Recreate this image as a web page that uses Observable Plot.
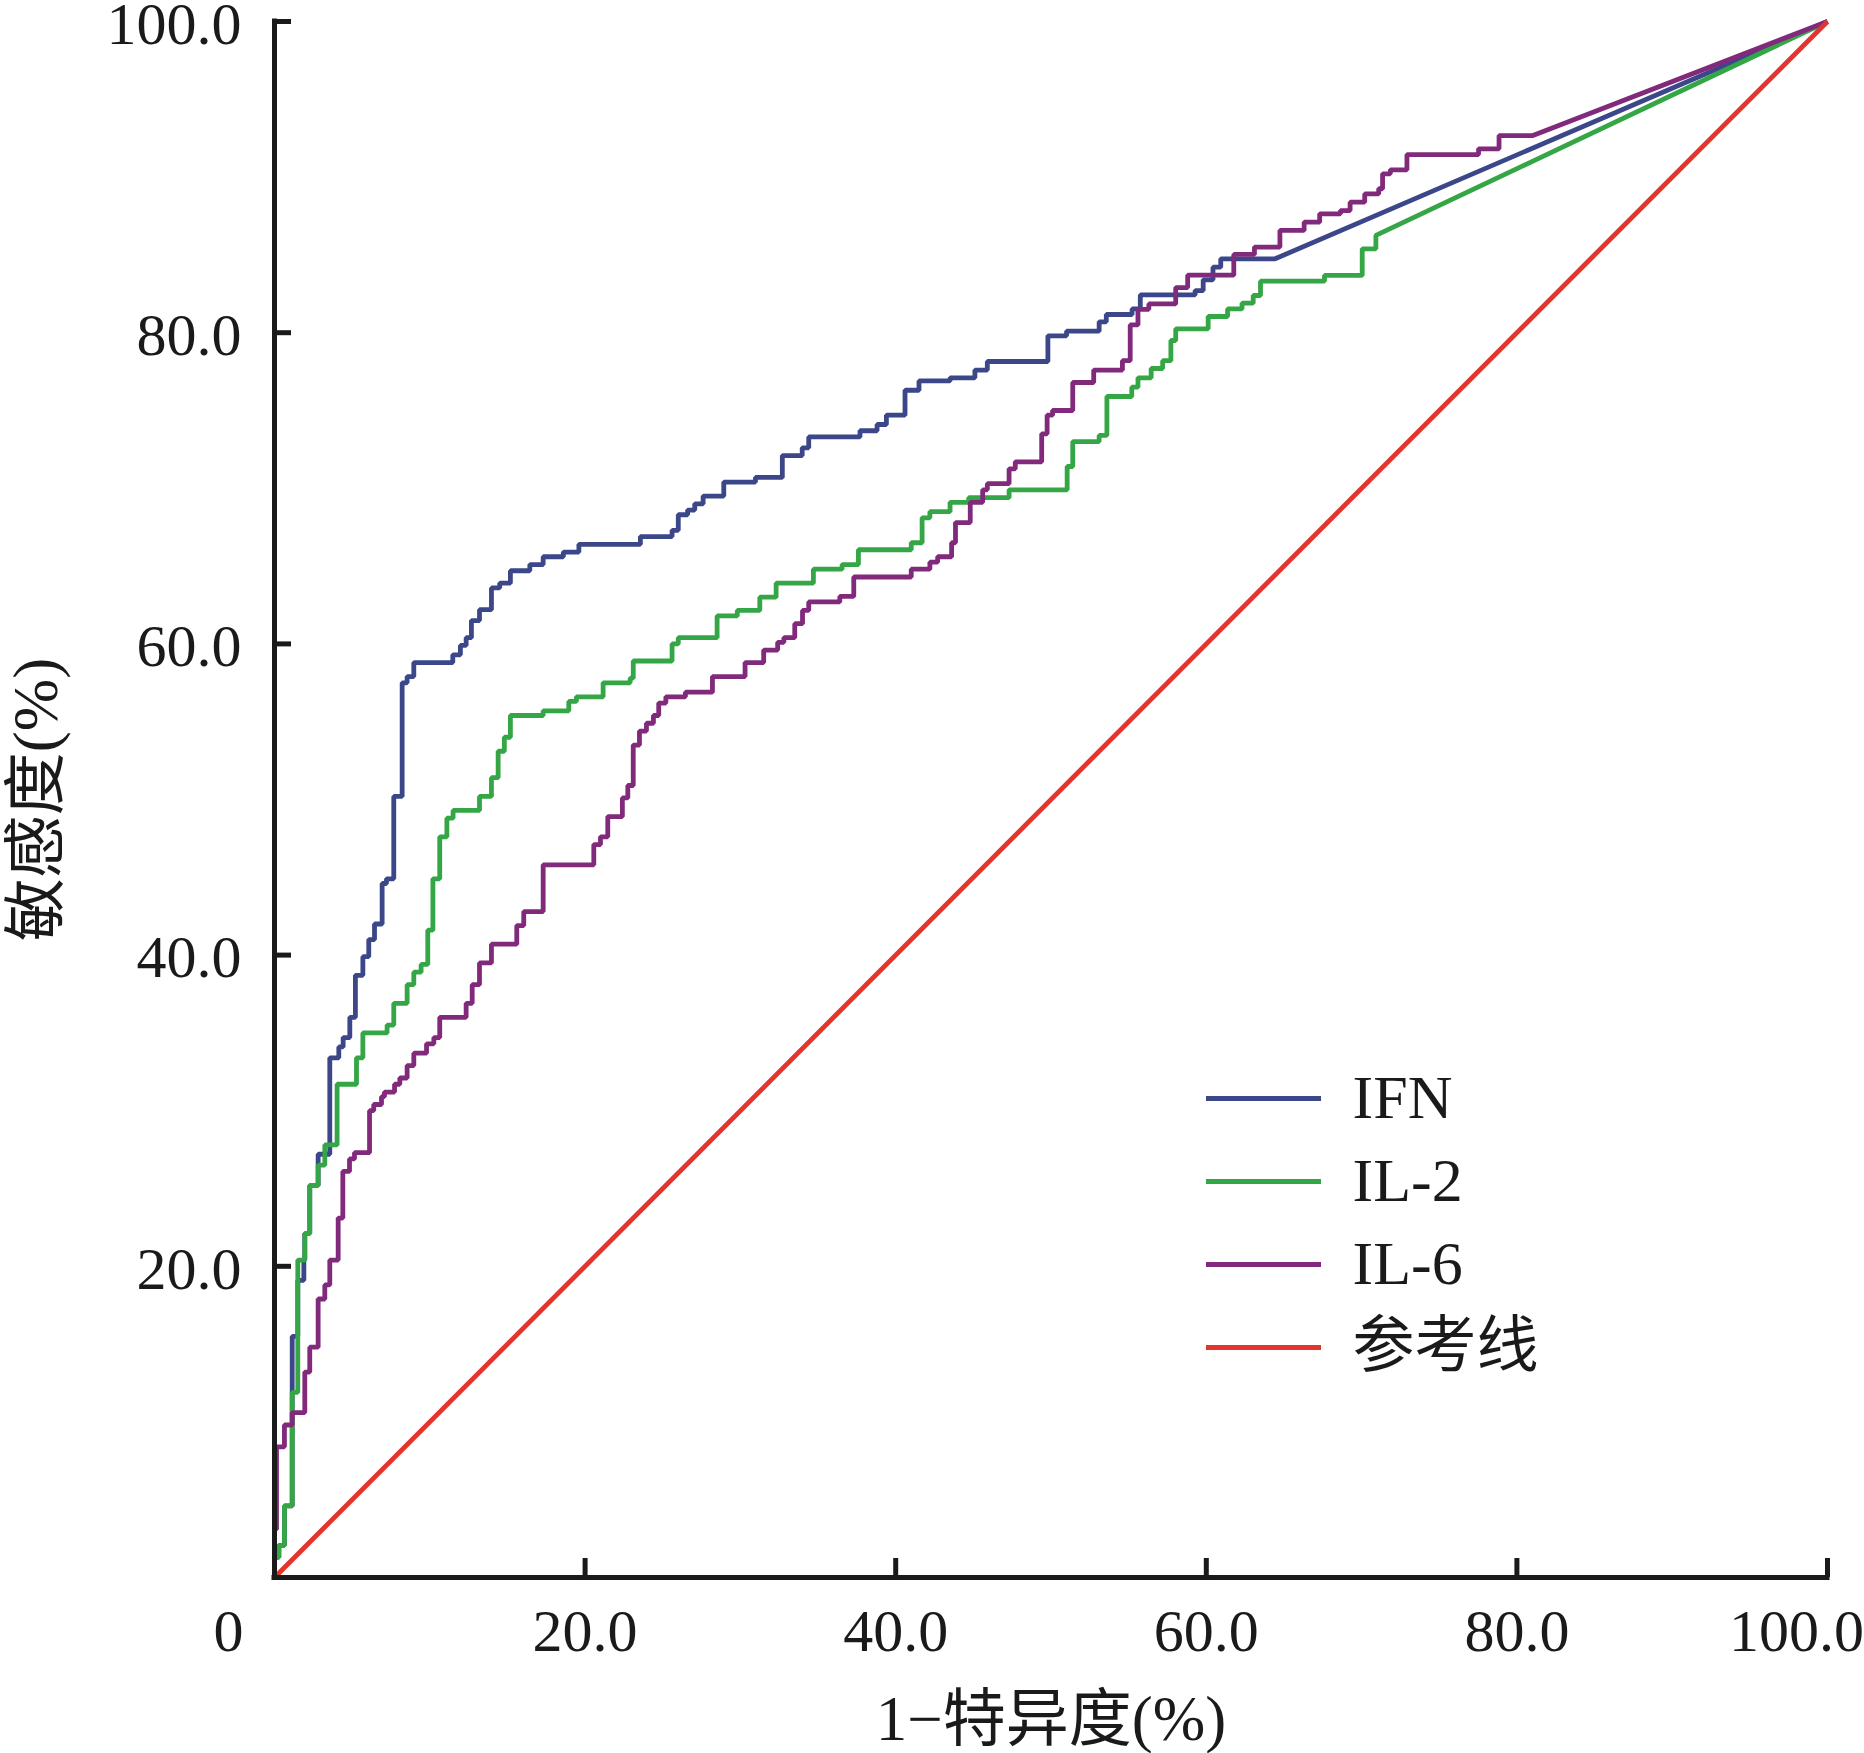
<!DOCTYPE html>
<html>
<head>
<meta charset="utf-8">
<script src="https://cdn.jsdelivr.net/npm/d3@7"></script>
<script src="https://cdn.jsdelivr.net/npm/@observablehq/plot@0.6"></script>
<style>
  body { margin: 0; background: #ffffff; }
  #chart svg { display: block; }
</style>
</head>
<body>
<div id="chart"></div>
<script>
// ---- data (1 - specificity %, sensitivity %) ----
const xTicks = [20, 40, 60, 80];
const xLastTick = [100];
const yTicks = [20, 40, 60, 80, 100];
const seriesNames = ["IFN", "IL-2", "IL-6", "参考线"];
const xLabel = "1−特异度(%)";
const yLabel = "敏感度(%)";

// step points: at fpr[i] the curve rises to tpr[i]; last point then runs straight to (100,100)
const ifnFpr = [0, 0.28, 0.64, 1.14, 1.5, 1.89, 1.95, 2.27, 2.81, 3.56, 4.14, 4.42, 4.85, 5.21, 5.69, 6.07, 6.44, 6.93, 7.21, 7.68, 8.22, 8.54, 8.97, 11.48, 11.97, 12.34, 12.68, 13.2, 13.97, 14.5, 15.19, 16.44, 17.3, 18.6, 19.6, 23.56, 25.6, 26.0, 26.6, 27.06, 27.6, 28.93, 30.97, 32.7, 33.98, 34.4, 37.7, 38.8, 39.4, 40.6, 41.5, 43.5, 45.1, 45.9, 49.8, 51.0, 53.1, 53.56, 55.22, 55.75, 59.28, 59.8, 60.43, 60.93, 64.43];
const ifnTpr = [1.3, 2.06, 4.6, 15.5, 19.1, 20.4, 22.1, 25.2, 27.2, 33.4, 34.1, 34.7, 36.0, 38.7, 39.9, 41.0, 42.0, 44.6, 44.9, 50.2, 57.5, 57.9, 58.8, 59.3, 59.9, 60.4, 61.5, 62.2, 63.6, 63.9, 64.7, 65.1, 65.6, 65.9, 66.4, 66.9, 67.3, 68.3, 68.6, 69.0, 69.5, 70.4, 70.7, 72.1, 72.6, 73.3, 73.7, 74.1, 74.7, 76.3, 76.9, 77.1, 77.6, 78.15, 79.8, 80.1, 80.7, 81.17, 81.53, 82.43, 82.71, 83.4, 84.21, 84.75, 84.75];

const il2Fpr = [0, 0.28, 0.64, 1.14, 1.5, 1.95, 2.27, 2.81, 3.24, 4.03, 5.28, 5.69, 7.25, 7.68, 8.54, 8.97, 9.44, 9.87, 10.2, 10.64, 11.1, 11.5, 13.2, 13.97, 14.4, 14.8, 15.19, 17.3, 18.95, 19.44, 21.16, 22.9, 23.1, 25.6, 26.0, 28.5, 29.8, 31.25, 32.3, 34.7, 36.55, 37.6, 41.0, 41.7, 42.2, 43.5, 44.7, 47.3, 51.04, 51.4, 53.1, 53.6, 55.2, 55.6, 56.45, 57.19, 57.72, 58.03, 60.12, 61.37, 62.3, 63.02, 63.49, 67.61, 70.04, 70.92];
const il2Tpr = [1.3, 2.06, 4.6, 11.9, 20.4, 22.1, 25.2, 26.5, 27.8, 31.7, 33.4, 35.0, 35.5, 36.9, 38.1, 38.9, 39.4, 41.6, 44.9, 47.6, 48.8, 49.3, 50.2, 51.4, 53.1, 54.0, 55.4, 55.7, 56.3, 56.6, 57.5, 57.8, 58.9, 60.0, 60.4, 61.8, 62.15, 63.0, 63.9, 64.8, 65.1, 66.05, 66.5, 68.1, 68.5, 69.1, 69.4, 69.9, 71.4, 73.0, 73.4, 75.9, 76.5, 77.1, 77.7, 78.2, 79.5, 80.25, 81.04, 81.53, 81.9, 82.39, 83.31, 83.68, 85.39, 86.25];

const il6Fpr = [0, 0.13, 0.64, 1.14, 1.95, 2.27, 2.81, 3.24, 3.56, 4.1, 4.4, 4.83, 5.15, 6.12, 6.39, 6.89, 7.08, 7.73, 8.07, 8.54, 8.97, 9.79, 10.26, 10.64, 12.34, 12.73, 13.2, 13.97, 15.6, 16.05, 17.3, 20.56, 20.99, 21.46, 22.4, 22.75, 23.1, 23.5, 23.95, 24.4, 24.74, 25.2, 26.46, 28.2, 30.3, 31.5, 32.4, 32.8, 33.5, 34.0, 34.4, 36.4, 37.3, 41.0, 42.2, 42.7, 43.6, 43.85, 44.8, 45.6, 45.9, 47.3, 47.7, 49.4, 49.75, 50.1, 51.4, 52.75, 54.6, 55.1, 55.6, 56.3, 58.03, 58.8, 61.77, 63.1, 64.74, 66.3, 67.3, 68.64, 69.26, 70.2, 71.1, 71.35, 71.85, 72.92, 77.53, 78.85, 81.03];
const il6Tpr = [3.1, 8.4, 9.8, 10.6, 13.2, 14.8, 17.9, 18.8, 20.4, 23.1, 26.1, 26.9, 27.3, 30.0, 30.4, 30.9, 31.2, 31.7, 32.1, 32.9, 33.7, 34.3, 34.7, 36.0, 36.9, 38.1, 39.5, 40.7, 41.9, 42.8, 45.8, 47.1, 47.6, 48.9, 50.1, 50.9, 53.5, 54.4, 54.9, 55.4, 56.2, 56.6, 56.9, 57.9, 58.8, 59.6, 60.1, 60.4, 61.3, 62.15, 62.7, 63.05, 64.3, 64.8, 65.25, 65.6, 66.5, 67.8, 69.1, 69.9, 70.3, 71.25, 71.7, 73.5, 74.7, 75.0, 76.8, 77.6, 78.2, 80.5, 81.5, 81.85, 82.9, 83.7, 85.03, 85.5, 86.57, 87.1, 87.64, 87.85, 88.39, 88.92, 89.25, 90.21, 90.47, 91.45, 91.82, 92.67, 92.67];

const refFpr = [0, 100];
const refTpr = [0, 100];

// ---- layout / style ----
const W = 1864, H = 1753;
const ML = 274, MR = 37, MT = 21, MB = 176;
const colors = ["#3b4789", "#35a645", "#812a7c", "#e3352d"];
const axisColor = "#1a1a1a";
const lineW = 4.8;
const serif = "'Liberation Serif', 'Times New Roman', 'Noto Sans CJK SC', serif";

const pxToX = px => (px - ML) / (W - ML - MR) * 100;
const pxToY = py => (H - MB - py) / (H - MT - MB) * 100;
const tickLenX = 17 / (W - ML - MR) * 100;
const tickLenY = 19 / (H - MT - MB) * 100;

function rocPoints(fpr, tpr) {
  const pts = [{x: 0, y: 0}];
  let prev = 0;
  fpr.forEach((f, i) => {
    pts.push({x: f, y: prev});
    pts.push({x: f, y: tpr[i]});
    prev = tpr[i];
  });
  pts.push({x: 100, y: 100});
  return pts;
}
const refPoints = refFpr.map((f, i) => ({x: f, y: refTpr[i]}));

const curves = [
  rocPoints(ifnFpr, ifnTpr),
  rocPoints(il2Fpr, il2Tpr),
  rocPoints(il6Fpr, il6Tpr),
  refPoints
];

const legendRowsPx = [1098, 1181, 1264, 1347];
const legendMarks = [];
seriesNames.forEach((name, i) => {
  legendMarks.push(Plot.ruleY([pxToY(legendRowsPx[i])], {
    x1: pxToX(1206), x2: pxToX(1321), stroke: colors[i], strokeWidth: lineW
  }));
  legendMarks.push(Plot.text([name], {
    frameAnchor: "top-left", dx: 1352 - ML, dy: legendRowsPx[i] - MT,
    textAnchor: "start", lineAnchor: "middle", fontSize: 62, fill: axisColor,
    fontFamily: serif
  }));
});

const chart = Plot.plot({
  width: W, height: H,
  marginLeft: ML, marginRight: MR, marginTop: MT, marginBottom: MB,
  x: {domain: [0, 100], label: null},
  y: {domain: [0, 100], label: null},
  style: {fontFamily: serif, background: "#ffffff", color: axisColor},
  marks: [
    ...curves.map((pts, i) => Plot.line(pts, {
      x: "x", y: "y", stroke: colors[i], strokeWidth: lineW,
      strokeLinejoin: "miter", strokeLinecap: "butt"
    })),
    Plot.ruleX([0], {y1: 0, y2: 100, stroke: axisColor, strokeWidth: 5, strokeLinecap: "square"}),
    Plot.ruleY([0], {x1: 0, x2: 100, stroke: axisColor, strokeWidth: 5, strokeLinecap: "square"}),
    Plot.ruleX([...xTicks, ...xLastTick], {y1: 0, y2: tickLenY, stroke: axisColor, strokeWidth: 5}),
    Plot.ruleY(yTicks, {x1: 0, x2: tickLenX, stroke: axisColor, strokeWidth: 5}),
    Plot.axisX({ticks: xTicks, tickSize: 0, tickPadding: 31, tickFormat: d => d.toFixed(1),
      fontSize: 60, label: null, fill: axisColor}),
    Plot.axisX({ticks: xLastTick, tickSize: 0, tickPadding: 31, tickFormat: d => d.toFixed(1), dx: -31,
      fontSize: 60, label: null, fill: axisColor}),
    Plot.axisX({ticks: [0], tickSize: 0, tickPadding: 31, tickFormat: () => "0", dx: -46,
      fontSize: 60, label: null, fill: axisColor}),
    Plot.axisY({ticks: yTicks, tickSize: 0, tickPadding: 33, tickFormat: d => d.toFixed(1), dy: 3,
      fontSize: 60, label: null, fill: axisColor}),
    Plot.text([xLabel], {frameAnchor: "bottom", dy: 162, lineAnchor: "bottom", textAnchor: "middle",
      fontSize: 63, fill: axisColor, fontFamily: serif}),
    Plot.text([yLabel], {frameAnchor: "left", dx: 36 - ML, rotate: -90, lineAnchor: "middle",
      textAnchor: "middle", fontSize: 63, fill: axisColor, fontFamily: serif}),
    ...legendMarks
  ]
});

document.getElementById("chart").appendChild(chart);
</script>
</body>
</html>
